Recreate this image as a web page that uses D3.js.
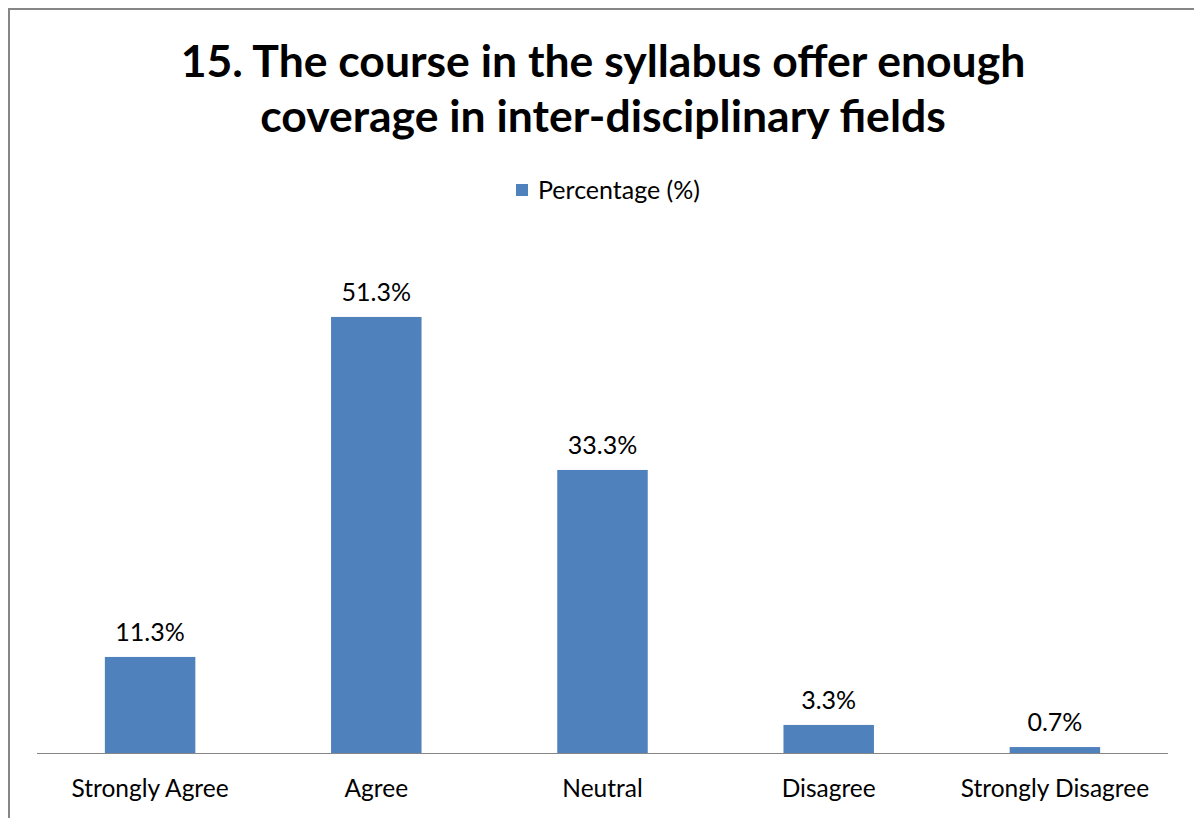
<!DOCTYPE html>
<html><head><meta charset="utf-8">
<script src="https://cdn.jsdelivr.net/npm/d3@7"></script>
<style>html,body{margin:0;padding:0;background:#fff;}svg{display:block;}</style>
</head><body>
<svg id="c" width="1194" height="818"></svg>
<script>
const categories = ["Strongly Agree","Agree","Neutral","Disagree","Strongly Disagree"];
const values = [11.3, 51.3, 33.3, 3.3, 0.7];
const valueLabels = ["11.3%","51.3%","33.3%","3.3%","0.7%"];
const titleLines = ["15. The course in the syllabus offer enough","coverage in inter-disciplinary fields"];
const seriesName = "Percentage (%)";

const svg = d3.select("#c");
const font = "Lato, 'Open Sans', sans-serif";
const barColor = "#4f81bd";

// chart border (cropped on right/bottom)
svg.append("path").attr("d","M9,818 V9 H1194").attr("fill","none").attr("stroke","#868686").attr("stroke-width",2);

const x = d3.scaleBand().domain(categories).range([37,1168]).paddingInner(0.6).paddingOuter(0.3);
const y = d3.scaleLinear().domain([0,60]).range([753,243]);

// title
const tl = svg.append("g");
titleLines.forEach((t,i)=>{
  tl.append("text").attr("x",603).attr("y",77+i*55).attr("text-anchor","middle")
    .attr("font-family",font).attr("font-weight","bold").attr("font-size",44.5).attr("fill","#000").text(t);
});

// legend
svg.append("rect").attr("x",516).attr("y",184).attr("width",12).attr("height",12).attr("fill",barColor);
svg.append("text").attr("x",538).attr("y",199).attr("font-family",font).attr("font-size",25).attr("fill","#000").text(seriesName);

// bars
svg.selectAll("rect.bar").data(values).join("rect").attr("class","bar")
  .attr("x",(d,i)=>x(categories[i])).attr("width",x.bandwidth())
  .attr("y",d=>y(d)).attr("height",d=>y(0)-y(d)).attr("fill",barColor);

// value labels
svg.selectAll("text.vl").data(values).join("text").attr("class","vl")
  .attr("x",(d,i)=>x(categories[i])+x.bandwidth()/2).attr("y",d=>y(d)-16)
  .attr("text-anchor","middle").attr("font-family",font).attr("font-size",25).attr("fill","#000")
  .text((d,i)=>valueLabels[i]);

// axis
const ax = svg.append("g").attr("transform","translate(0,753)")
  .call(d3.axisBottom(x).tickSize(0).tickPadding(0));
ax.select(".domain").remove();
ax.append("line").attr("x1",37).attr("x2",1168).attr("y1",0.5).attr("y2",0.5).attr("stroke","#868686").attr("stroke-width",1.2);
ax.selectAll(".tick text").attr("font-family",font).attr("font-size",24.5).attr("fill","#000").attr("dy",null).attr("y",44);
</script>
</body></html>
